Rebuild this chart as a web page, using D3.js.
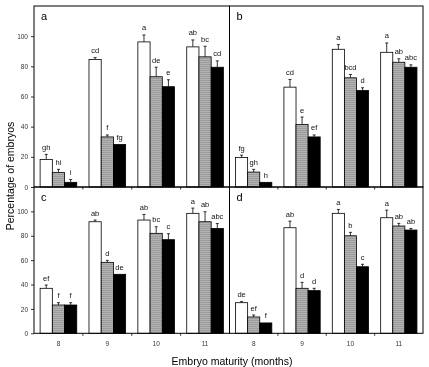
<!DOCTYPE html>
<html>
<head>
<meta charset="utf-8">
<script src="https://cdn.jsdelivr.net/npm/d3@7"></script>
<style>
body{margin:0;background:#fff;}
svg{display:block;will-change:transform;}
text{font-family:"Liberation Sans",Arial,sans-serif;}
</style>
</head>
<body>
<div id="my_dataviz"></div>
<script>
// categories
const months = ["8","9","10","11"];
const series = ["white","grey","black"];
const yTicks = [0,20,40,60,80,100];

// panel a
const aWhite = [18.3, 84.5, 96.2, 92.9], aWhiteErr = [3.3, 1.3, 4.6, 4.6];
const aGrey  = [9.7, 33.2, 73.1, 86.3],  aGreyErr  = [2.0, 1.3, 6.3, 7.0];
const aBlack = [3.1, 28.2, 66.5, 79.4],  aBlackErr = [1.9, 0, 4.6, 4.2];
const aLetters = [["gh","cd","a","ab"],["hi","f","de","bc"],["i","fg","e","cd"]];

// panel b
const bWhite = [19.6, 66.2, 91.3, 89.3], bWhiteErr = [1.5, 5.1, 3.1, 6.2];
const bGrey  = [9.9, 41.4, 72.4, 82.7],  bGreyErr  = [1.8, 5.0, 2.2, 2.3];
const bBlack = [3.1, 33.2, 64.0, 79.4],  bBlackErr = [0, 1.3, 1.8, 1.6];
const bLetters = [["fg","cd","a","a"],["gh","e","bcd","ab"],["h","ef","d","abc"]];

// panel c
const cWhite = [36.9, 91.5, 92.9, 98.4], cWhiteErr = [2.7, 1.4, 4.6, 4.3];
const cGrey  = [23.2, 58.2, 82.0, 91.5], cGreyErr  = [1.9, 1.6, 5.4, 8.2];
const cBlack = [23.2, 48.4, 76.8, 86.0], cBlackErr = [1.9, 0, 4.9, 4.0];
const cLetters = [["ef","ab","ab","a"],["f","d","bc","ab"],["f","de","c","abc"]];

// panel d
const dWhite = [25.1, 86.6, 98.4, 94.8], dWhiteErr = [0.9, 5.4, 3.2, 6.2];
const dGrey  = [13.4, 36.9, 80.0, 88.0], dGreyErr  = [1.6, 4.9, 2.8, 2.2];
const dBlack = [8.5, 35.0, 54.6, 84.7],  dBlackErr = [0, 1.9, 2.0, 1.3];
const dLetters = [["de","ab","a","a"],["ef","d","b","ab"],["f","d","c","ab"]];

const panels = [
  {name:"a", col:0, row:0, means:[aWhite,aGrey,aBlack], errs:[aWhiteErr,aGreyErr,aBlackErr], letters:aLetters},
  {name:"b", col:1, row:0, means:[bWhite,bGrey,bBlack], errs:[bWhiteErr,bGreyErr,bBlackErr], letters:bLetters},
  {name:"c", col:0, row:1, means:[cWhite,cGrey,cBlack], errs:[cWhiteErr,cGreyErr,cBlackErr], letters:cLetters},
  {name:"d", col:1, row:1, means:[dWhite,dGrey,dBlack], errs:[dWhiteErr,dGreyErr,dBlackErr], letters:dLetters}
];

const width = 429, height = 367;
const colX = [[34, 229.5],[229.5, 423]];
const rowY = [[6, 187],[187, 333.3]];

let svg = d3.select("#my_dataviz")
  .append("svg")
  .attr("width", width)
  .attr("height", height);

// striped grey fill
let pat = svg.append("defs").append("pattern")
  .attr("id","stripes")
  .attr("patternUnits","userSpaceOnUse")
  .attr("width",4).attr("height",2);
pat.append("rect").attr("width",4).attr("height",2).attr("fill","#9c9c9c");
pat.append("rect").attr("y",1).attr("width",4).attr("height",1).attr("fill","#b2b2b2");

const fills = {white:"#fff", grey:"url(#stripes)", black:"#000"};

panels.forEach(p => {
  let x0 = colX[p.col][0], x1 = colX[p.col][1];
  let y0 = rowY[p.row][0], y1 = rowY[p.row][1];

  let x = d3.scaleBand().domain(months).range([x0, x1]).padding(0);
  let xs = d3.scaleBand().domain(series).range([0, x.bandwidth()]).paddingInner(0).paddingOuter(0.5);
  let y = d3.scaleLinear().domain([0,120]).range([y1, y0]);

  let g = svg.append("g");

  // bars
  series.forEach((s, si) => {
    months.forEach((m, mi) => {
      let v = p.means[si][mi], e = p.errs[si][mi];
      let bx = x(m) + xs(s);
      let cx = bx + xs.bandwidth()/2;
      if (e > 0) {
        g.append("line")
          .attr("x1", cx).attr("x2", cx)
          .attr("y1", y(v)).attr("y2", y(v+e))
          .attr("stroke","#000").attr("stroke-width",0.8);
        g.append("line")
          .attr("x1", cx-1.5).attr("x2", cx+1.5)
          .attr("y1", y(v+e)).attr("y2", y(v+e))
          .attr("stroke","#000").attr("stroke-width",0.8);
      }
      g.append("rect")
        .attr("x", bx).attr("y", y(v))
        .attr("width", xs.bandwidth())
        .attr("height", y(0) - y(v))
        .attr("fill", fills[s])
        .attr("stroke","#000").attr("stroke-width",0.8);
      g.append("text")
        .attr("x", cx).attr("y", y(v+e) - 4.5)
        .attr("text-anchor","middle")
        .style("font-size","7.5px")
        .attr("fill","#111")
        .text(p.letters[si][mi]);
    });
  });

  // frame
  g.append("rect")
    .attr("x", x0).attr("y", y0)
    .attr("width", x1-x0).attr("height", y1-y0)
    .attr("fill","none").attr("stroke","#000").attr("stroke-width",1);

  // boundary ticks on x
  months.slice(1).forEach(m => {
    g.append("line")
      .attr("x1", x(m)).attr("x2", x(m))
      .attr("y1", y1).attr("y2", y1+2.5)
      .attr("stroke","#000").attr("stroke-width",0.8);
  });

  // panel letter
  g.append("text")
    .attr("x", x0+7).attr("y", y0+13.5)
    .style("font-size","11px")
    .text(p.name);

  if (p.col == 0) {
    let ya = g.append("g")
      .attr("transform","translate(" + x0 + ",0)")
      .call(d3.axisLeft(y).tickValues(yTicks).tickSize(3).tickPadding(3));
    ya.select(".domain").remove();
    ya.selectAll("text").style("font-size","6.5px").style("font-family","'Liberation Sans',Arial,sans-serif").attr("fill","#333");
    ya.selectAll("line").attr("stroke-width",0.8);
  }

  if (p.row == 1) {
    let xa = g.append("g")
      .attr("transform","translate(0," + y1 + ")")
      .call(d3.axisBottom(x).tickSize(0).tickPadding(8));
    xa.select(".domain").remove();
    xa.selectAll("text").style("font-size","6.5px").style("font-family","'Liberation Sans',Arial,sans-serif").attr("fill","#333");
  }
});

// axis titles
svg.append("text")
  .attr("transform","translate(14,176) rotate(-90)")
  .attr("text-anchor","middle")
  .style("font-size","10.5px")
  .text("Percentage of embryos");

svg.append("text")
  .attr("x", 232).attr("y", 365)
  .attr("text-anchor","middle")
  .style("font-size","10.5px")
  .text("Embryo maturity (months)");
</script>
</body>
</html>
